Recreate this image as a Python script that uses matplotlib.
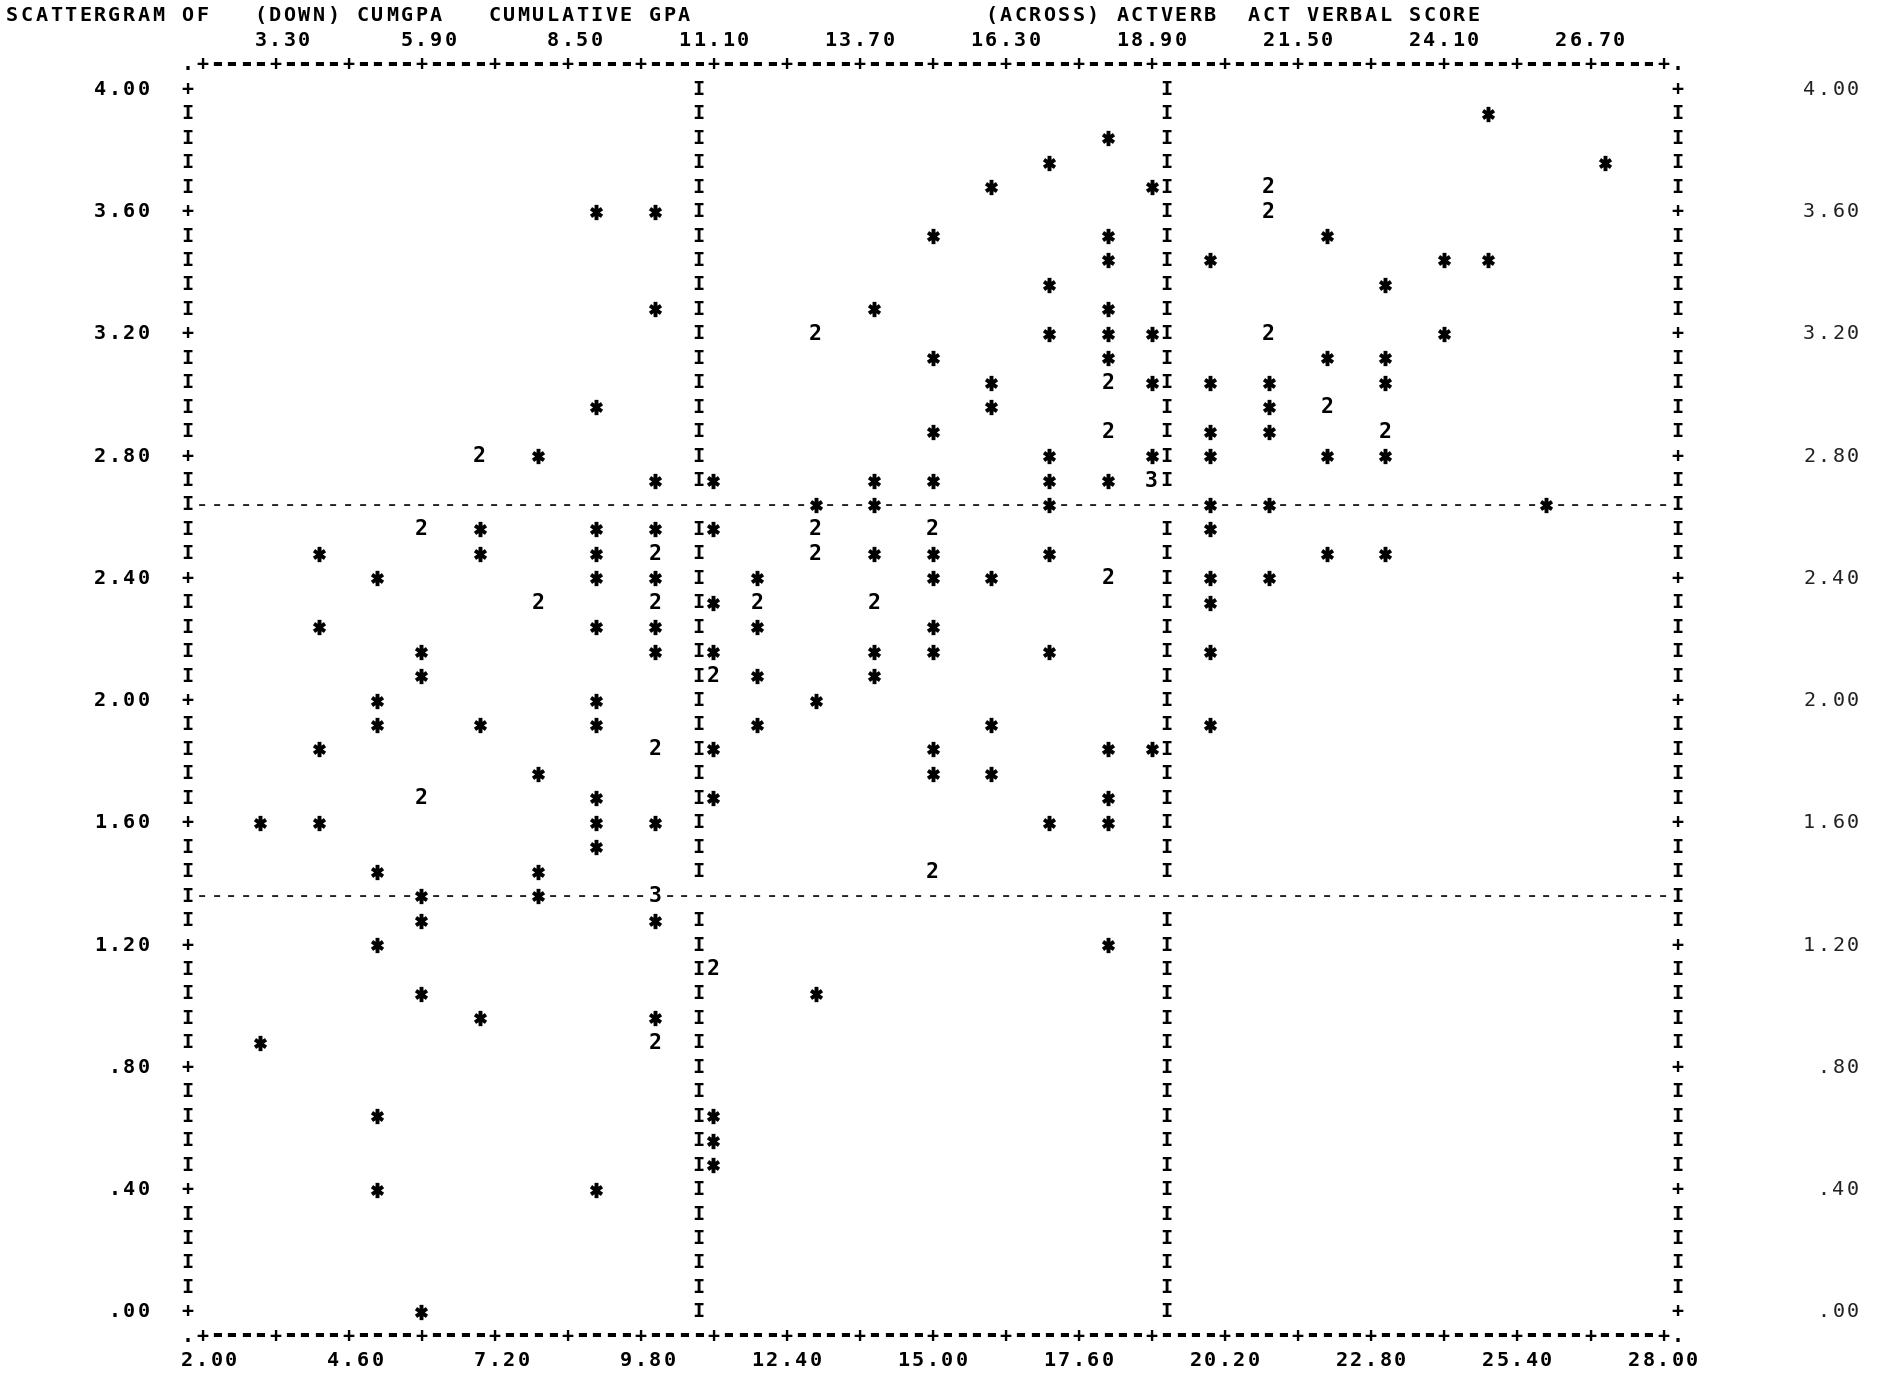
import matplotlib
matplotlib.use('Agg')
import matplotlib.pyplot as plt
from matplotlib.path import Path

# SPSS line printer scattergram: CUMGPA (down) by ACTVERB (across)
title_down = '(DOWN) CUMGPA   CUMULATIVE GPA'
title_across = '(ACROSS) ACTVERB  ACT VERBAL SCORE'

# one entry per printed symbol: ACT verbal score, cumulative GPA, number of cases
act_verbal = [25,
              18,
              17, 27,
              16, 19, 21,
              9, 10, 21,
              15, 18, 22,
              18, 20, 24, 25,
              17, 23,
              10, 14, 18,
              13, 17, 18, 19, 21, 24,
              15, 18, 22, 23,
              16, 18, 19, 20, 21, 23,
              9, 16, 21, 22,
              15, 18, 20, 21, 23,
              7, 8, 17, 19, 20, 22, 23,
              10, 11, 14, 15, 17, 18, 19,
              13, 14, 17, 20, 21, 26,
              6, 7, 9, 10, 11, 13, 15, 20,
              4, 7, 9, 10, 13, 14, 15, 17, 22, 23,
              5, 9, 10, 12, 15, 16, 18, 20, 21,
              8, 10, 11, 12, 14, 20,
              4, 9, 10, 12, 15,
              6, 10, 11, 14, 15, 17, 20,
              6, 11, 12, 14,
              5, 9, 13,
              5, 7, 9, 12, 16, 20,
              4, 10, 11, 15, 18, 19,
              8, 15, 16,
              6, 9, 11, 18,
              3, 4, 9, 10, 17, 18,
              9,
              5, 8, 15,
              6, 8, 10,
              6, 10,
              5, 18,
              11,
              6, 13,
              7, 10,
              3, 10,
              5, 11,
              11,
              11,
              5, 9,
              6]
cum_gpa = [3.92,
           3.84,
           3.76, 3.76,
           3.68, 3.68, 3.68,
           3.60, 3.60, 3.60,
           3.52, 3.52, 3.52,
           3.44, 3.44, 3.44, 3.44,
           3.36, 3.36,
           3.28, 3.28, 3.28,
           3.20, 3.20, 3.20, 3.20, 3.20, 3.20,
           3.12, 3.12, 3.12, 3.12,
           3.04, 3.04, 3.04, 3.04, 3.04, 3.04,
           2.96, 2.96, 2.96, 2.96,
           2.88, 2.88, 2.88, 2.88, 2.88,
           2.80, 2.80, 2.80, 2.80, 2.80, 2.80, 2.80,
           2.72, 2.72, 2.72, 2.72, 2.72, 2.72, 2.72,
           2.64, 2.64, 2.64, 2.64, 2.64, 2.64,
           2.56, 2.56, 2.56, 2.56, 2.56, 2.56, 2.56, 2.56,
           2.48, 2.48, 2.48, 2.48, 2.48, 2.48, 2.48, 2.48, 2.48, 2.48,
           2.40, 2.40, 2.40, 2.40, 2.40, 2.40, 2.40, 2.40, 2.40,
           2.32, 2.32, 2.32, 2.32, 2.32, 2.32,
           2.24, 2.24, 2.24, 2.24, 2.24,
           2.16, 2.16, 2.16, 2.16, 2.16, 2.16, 2.16,
           2.08, 2.08, 2.08, 2.08,
           2.00, 2.00, 2.00,
           1.92, 1.92, 1.92, 1.92, 1.92, 1.92,
           1.84, 1.84, 1.84, 1.84, 1.84, 1.84,
           1.76, 1.76, 1.76,
           1.68, 1.68, 1.68, 1.68,
           1.60, 1.60, 1.60, 1.60, 1.60, 1.60,
           1.52,
           1.44, 1.44, 1.44,
           1.36, 1.36, 1.36,
           1.28, 1.28,
           1.20, 1.20,
           1.12,
           1.04, 1.04,
           0.96, 0.96,
           0.88, 0.88,
           0.64, 0.64,
           0.56,
           0.48,
           0.40, 0.40,
           0.00]
n_cases = [1,
           1,
           1, 1,
           1, 1, 2,
           1, 1, 2,
           1, 1, 1,
           1, 1, 1, 1,
           1, 1,
           1, 1, 1,
           2, 1, 1, 1, 2, 1,
           1, 1, 1, 1,
           1, 2, 1, 1, 1, 1,
           1, 1, 1, 2,
           1, 2, 1, 1, 2,
           2, 1, 1, 1, 1, 1, 1,
           1, 1, 1, 1, 1, 1, 3,
           1, 1, 1, 1, 1, 1,
           2, 1, 1, 1, 1, 2, 2, 1,
           1, 1, 1, 2, 2, 1, 1, 1, 1, 1,
           1, 1, 1, 1, 1, 1, 2, 1, 1,
           2, 2, 1, 2, 2, 1,
           1, 1, 1, 1, 1,
           1, 1, 1, 1, 1, 1, 1,
           1, 2, 1, 1,
           1, 1, 1,
           1, 1, 1, 1, 1, 1,
           1, 2, 1, 1, 1, 1,
           1, 1, 1,
           2, 1, 1, 1,
           1, 1, 1, 1, 1, 1,
           1,
           1, 1, 2,
           1, 1, 3,
           1, 1,
           1, 1,
           2,
           1, 1,
           1, 1,
           1, 2,
           1, 1,
           1,
           1,
           1, 1,
           1]

# print grid of the scattergram
X0, DX, NCOL = 2.00, 0.26, 100
Y0, DY, NROW = 4.00, 0.08, 50
div_cols = [34, 66]
div_rows = [17, 33]

W, H = 1879, 1377
px_x0, px_dx = 202.0, 14.61
px_y0, px_dy = 89.3, 24.45


def cx(c):
    return X0 + DX * c


def ry(r):
    return Y0 - DY * r


fig = plt.figure(figsize=(W / 100, H / 100), dpi=100)
ax = fig.add_axes([0, 0, 1, 1])
ax.set_xlim(X0 - DX * px_x0 / px_dx, X0 + DX * (W - px_x0) / px_dx)
ax.set_ylim(Y0 - DY * (H - px_y0) / px_dy, Y0 + DY * px_y0 / px_dy)
ax.axis('off')

mono = dict(family='DejaVu Sans Mono', fontsize=14.5, fontweight='bold', color='black')


def put(c, r, s, **kw):
    style = dict(mono)
    style.update(kw)
    for i, ch in enumerate(s):
        if ch != ' ':
            ax.text(cx(c + i), ry(r), ch, ha='center', va='center', **style)


cols = [round((a - X0) / DX) for a in act_verbal]
rows = [round((Y0 - g) / DY) for g in cum_gpa]
occupied = set(zip(cols, rows))

# frame
for r in range(NROW + 1):
    ch = '+' if r % 5 == 0 else 'I'
    put(-1, r, ch)
    put(NCOL + 1, r, ch)
for c in range(-1, NCOL + 2):
    if c in (-1, NCOL + 1):
        put(c, -1, '.')
        put(c, NROW + 1, '.')
    elif c % 5 == 0:
        put(c, -1, '+')
        put(c, NROW + 1, '+')
    else:
        put(c, -1, '-', fontsize=19)
        put(c, NROW + 1, '-', fontsize=19)

# dividing lines
for c in div_cols:
    for r in range(NROW + 1):
        if r not in div_rows and (c, r) not in occupied:
            put(c, r, 'I')
for r in div_rows:
    for c in range(NCOL + 1):
        if (c, r) not in occupied:
            put(c, r, '-', fontsize=17, fontweight='normal', color='#222222')

# points: '*' for one case, digit for several
star = Path([(0, -1), (0, 1), (-0.72, -0.5), (0.72, 0.5), (-0.72, 0.5), (0.72, -0.5)],
            [Path.MOVETO, Path.LINETO, Path.MOVETO, Path.LINETO, Path.MOVETO, Path.LINETO])
one_x = [cx(c) for c, n in zip(cols, n_cases) if n == 1]
one_y = [ry(r) for r, n in zip(rows, n_cases) if n == 1]
ax.plot(one_x, one_y, linestyle='none', marker=star, markersize=11,
        markeredgewidth=2.8, color='black')
for c, r, n in zip(cols, rows, n_cases):
    if n > 1:
        put(c, r, str(n), fontsize=15.5)

# scale labels
for c in range(5, NCOL, 10):
    s = f'{X0 + DX * c:.2f}'
    put(c + 3 - len(s), -2, s)
for c in range(0, NCOL + 1, 10):
    s = f'{X0 + DX * c:.2f}'
    put(c + 3 - len(s), NROW + 2, s)
for r in range(0, NROW + 1, 5):
    s = f'{Y0 - DY * r:.2f}'
    if s.startswith('0'):
        s = s[1:]
    put(-3 - len(s), r, s)
    put(114 - len(s), r, s, fontweight='normal', color='#222222')

put(-13, -3, 'SCATTERGRAM OF   ' + title_down + ' ' * 20 + title_across)

fig.savefig('out.png', dpi=100, facecolor='white')
